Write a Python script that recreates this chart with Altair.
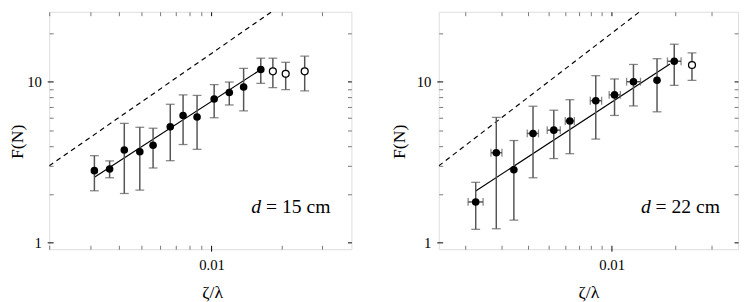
import altair as alt
import pandas as pd

# ---------------- data ----------------
X_TICKS = [0.002, 0.003, 0.004, 0.005, 0.006, 0.007, 0.008, 0.009, 0.01, 0.02, 0.03]
Y_TICKS = [1, 2, 3, 4, 5, 6, 7, 8, 9, 10, 20]
Y_DOMAIN = [0.91, 27.2]

# Left panel: d = 15 cm
L_x = [0.00313, 0.00364, 0.00421, 0.00491, 0.00560, 0.00664, 0.00754, 0.00866, 0.01026, 0.01192, 0.01374, 0.01629]
L_y = [2.80, 2.87, 3.76, 3.67, 4.03, 5.24, 6.17, 6.03, 7.80, 8.57, 9.27, 11.9]
L_lo = [2.10, 2.53, 2.02, 2.12, 2.91, 3.23, 4.07, 3.80, 5.97, 7.17, 6.59, 9.77]
L_hi = [3.47, 3.22, 5.51, 5.21, 5.14, 7.24, 8.28, 8.22, 9.59, 9.95, 12.1, 14.0]
L_open_x = [0.01836, 0.02085, 0.02517]
L_open_y = [11.6, 11.2, 11.6]
L_open_lo = [9.19, 8.93, 8.77]
L_open_hi = [14.0, 13.2, 14.4]
L_fit_x = [0.00313, 0.01629]
L_fit_y = [2.55, 11.9]
L_ref_x = [0.002, 0.02]
L_ref_y = [3.0, 30.0]
L_xdom = [0.002, 0.04]
L_label = ["d", "= 15 cm"]

# Right panel: d = 22 cm
R_x = [0.00225, 0.00282, 0.00342, 0.00422, 0.00530, 0.00632, 0.00840, 0.01032, 0.01270, 0.01645, 0.01987]
R_y = [1.79, 3.62, 2.84, 4.77, 5.00, 5.70, 7.62, 8.28, 10.0, 10.2, 13.4]
R_lo = [1.21, 1.22, 1.38, 2.53, 3.33, 3.57, 4.40, 6.17, 7.07, 6.50, 9.49]
R_hi = [2.37, 6.00, 4.31, 7.04, 6.65, 7.73, 10.9, 10.4, 12.8, 13.9, 17.1]
R_xlo = [0.00207, 0.00266, 0.00342, 0.00396, 0.00493, 0.00601, 0.00791, 0.00973, 0.01178, 0.01645, 0.01844]
R_xhi = [0.00244, 0.00300, 0.00342, 0.00448, 0.00569, 0.00664, 0.00896, 0.01100, 0.01372, 0.01645, 0.02141]
R_open_x = [0.02414]
R_open_y = [12.7]
R_open_lo = [10.2]
R_open_hi = [15.1]
R_fit_x = [0.00225, 0.01896]
R_fit_y = [2.09, 12.9]
R_ref_x = [0.0015, 0.015]
R_ref_y = [3.0, 30.0]
R_xdom = [0.0015, 0.04]
R_label = ["d", "= 22 cm"]

FONT = "Liberation Serif"
BAR = "#555555"


def tick_props(test, major=6):
    return dict(
        tickSize={"condition": {"test": test, "value": major}, "value": 4},
        tickColor={"condition": {"test": test, "value": "black"}, "value": "#777777"},
        tickWidth=1,
        domain=False,
        grid=False,
        offset=-4,
    )


def x_bottom(title_x):
    kw = dict(orient="bottom", values=X_TICKS,
              labelExpr="datum.value == 0.01 ? '0.01' : ''",
              labelFont=FONT, labelFontSize=15, labelColor="black", labelPadding=7,
              labelFlush=False, labelOverlap=False,
              title="ζ/λ", titleFont=FONT, titleFontSize=18, titleFontWeight="normal",
              titleColor="black", titlePadding=11,
              **tick_props("datum.value == 0.01"))
    if title_x is not None:
        kw["titleX"] = title_x
    return alt.Axis(**kw)


def x_top():
    return alt.Axis(orient="top", values=X_TICKS, labels=False, title=None,
                    **tick_props("datum.value == 0.01", major=4))


def y_left(title_pad):
    return alt.Axis(orient="left", values=Y_TICKS,
                    labelExpr="(datum.value == 1 || datum.value == 10) ? format(datum.value, 'd') : ''",
                    labelFont=FONT, labelFontSize=15, labelColor="black", labelPadding=6,
                    labelOverlap=False, labelFlush=False,
                    title="F(N)", titleFont=FONT, titleFontSize=18, titleFontWeight="normal",
                    titleColor="black", titlePadding=title_pad, titleY=132,
                    **tick_props("datum.value == 1 || datum.value == 10"))


def y_right():
    return alt.Axis(orient="right", values=Y_TICKS, labels=False, title=None,
                    **tick_props("datum.value == 1 || datum.value == 10", major=4))


def panel(xs, ys, lo, hi, ox, oy, olo, ohi, fx, fy, rx, ry, xdom, label,
          width, title_pad, title_x=None, hxlo=None, hxhi=None):
    xsc = alt.Scale(type="log", domain=xdom, nice=False)
    ysc = alt.Scale(type="log", domain=Y_DOMAIN, nice=False)

    def X(field, axis=None):
        return alt.X(f"{field}:Q", scale=xsc, axis=axis)

    def Y(field, axis=None):
        return alt.Y(f"{field}:Q", scale=ysc, axis=axis)

    pts = pd.DataFrame({"x": xs, "y": ys, "lo": lo, "hi": hi})
    opn = pd.DataFrame({"x": ox, "y": oy, "lo": olo, "hi": ohi})
    allpts = pd.concat([pts, opn], ignore_index=True)
    fit = pd.DataFrame({"x": fx, "y": fy})
    ref = pd.DataFrame({"x": rx, "y": ry})

    ref_layer = alt.Chart(ref).mark_line(color="black", strokeWidth=1.2, strokeDash=[5, 4], clip=True).encode(
        x=X("x", x_bottom(title_x)), y=Y("y", y_left(title_pad)))
    fit_layer = alt.Chart(fit).mark_line(color="black", strokeWidth=1.2, clip=True).encode(
        x=X("x", x_top()), y=Y("y", y_right()))

    bars = alt.Chart(allpts).mark_rule(color=BAR, strokeWidth=1.5).encode(
        x=X("x"), y=Y("lo"), y2="hi")
    cap_lo = alt.Chart(allpts).mark_tick(color=BAR, orient="horizontal", size=9, thickness=1.3).encode(
        x=X("x"), y=Y("lo"))
    cap_hi = alt.Chart(allpts).mark_tick(color=BAR, orient="horizontal", size=9, thickness=1.3).encode(
        x=X("x"), y=Y("hi"))

    layers = [ref_layer, fit_layer, bars, cap_lo, cap_hi]

    if hxlo is not None:
        h = pd.DataFrame({"y": ys, "xlo": hxlo, "xhi": hxhi})
        h = h[h["xlo"] < h["xhi"]]
        hbar = alt.Chart(h).mark_rule(color=BAR, strokeWidth=1.5).encode(
            x=X("xlo"), x2="xhi", y=Y("y"))
        hcap1 = alt.Chart(h).mark_tick(color=BAR, orient="vertical", size=8, thickness=1.3).encode(
            x=X("xlo"), y=Y("y"))
        hcap2 = alt.Chart(h).mark_tick(color=BAR, orient="vertical", size=8, thickness=1.3).encode(
            x=X("xhi"), y=Y("y"))
        layers += [hbar, hcap1, hcap2]

    filled = alt.Chart(pts).mark_circle(color="black", size=60, opacity=1).encode(x=X("x"), y=Y("y"))
    open_ = alt.Chart(opn).mark_point(shape="circle", filled=False, fill="white", stroke="black",
                                      strokeWidth=1.3, size=50, opacity=1).encode(x=X("x"), y=Y("y"))
    layers += [filled, open_]

    lab = pd.DataFrame({"t": [label[0]]})
    lab2 = pd.DataFrame({"t": [label[1]]})
    t1 = alt.Chart(lab).mark_text(font=FONT, fontSize=20, fontStyle="italic", align="left",
                                  baseline="alphabetic", color="black").encode(
        x=alt.value(206), y=alt.value(205), text="t:N")
    t2 = alt.Chart(lab2).mark_text(font=FONT, fontSize=20, align="left",
                                   baseline="alphabetic", color="black").encode(
        x=alt.value(221), y=alt.value(205), text="t:N")
    layers += [t1, t2]

    return alt.layer(*layers).resolve_axis(x="independent", y="independent").properties(
        width=width, height=242)


left = panel(L_x, L_y, L_lo, L_hi, L_open_x, L_open_y, L_open_lo, L_open_hi,
             L_fit_x, L_fit_y, L_ref_x, L_ref_y, L_xdom, L_label, 308, 0, title_x=166)
right = panel(R_x, R_y, R_lo, R_hi, R_open_x, R_open_y, R_open_lo, R_open_hi,
              R_fit_x, R_fit_y, R_ref_x, R_ref_y, R_xdom, R_label, 305, 8,
              hxlo=R_xlo, hxhi=R_xhi)

chart = alt.hconcat(left, right, spacing=38).properties(padding=0).configure_view(
    stroke="black", strokeWidth=1).configure(background="white")

chart.save("out.html", embed_options={"renderer": "svg", "actions": False})
